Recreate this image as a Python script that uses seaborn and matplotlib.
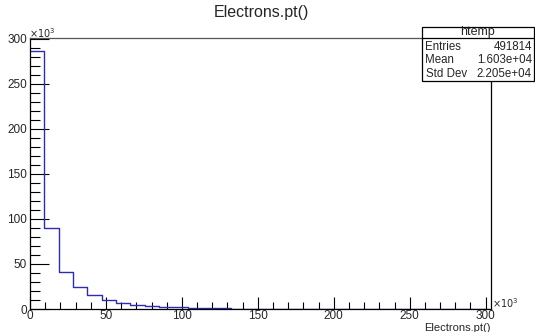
import numpy as np
import pandas as pd
import matplotlib
matplotlib.use("Agg")
import matplotlib.pyplot as plt
import seaborn as sns
from matplotlib.patches import Rectangle
from matplotlib.ticker import MultipleLocator

# ---- data (values in units of 10^3) ----
bin_width = 9.45
counts = [286.5, 89.4, 41.3, 24.0, 15.2, 10.3, 6.3, 4.8, 3.3, 2.6, 2.0, 1.5,
          1.2, 0.9, 0.3, 0.2, 0.2, 0.1, 0.1, 0.1, 0.05, 0.05, 0.05, 0.05,
          0.05, 0.05, 0.05, 0.05, 0.03, 0.03, 0.03, 0.03]
title = "Electrons.pt()"
xlabel = "Electrons.pt()"
stats_name = "htemp"
stats_rows = [("Entries", "491814"), ("Mean", "1.603e+04"), ("Std Dev", "2.205e+04")]

nbins = len(counts)
centers = (np.arange(nbins) + 0.5) * bin_width
df = pd.DataFrame({"x": centers, "w": counts})

sns.set_style("ticks")
plt.rcParams["font.family"] = ["Liberation Sans", "DejaVu Sans"]

W, H = 535, 332
fig = plt.figure(figsize=(W / 100, H / 100), dpi=100)
ax = fig.add_axes([30 / W, 1 - 309 / H, (491 - 30) / W, (309 - 38) / H])

sns.histplot(data=df, x="x", weights="w", binwidth=bin_width,
             binrange=(0, nbins * bin_width), element="step",
             fill=False, color="#2c2cb4", linewidth=1.0, ax=ax)

ax.set_xlim(0, 303.5)
ax.set_ylim(0, 1.05 * max(counts))
ax.set_xlabel("")
ax.set_ylabel("")

ax.xaxis.set_major_locator(MultipleLocator(50))
ax.xaxis.set_minor_locator(MultipleLocator(10))
ax.yaxis.set_major_locator(MultipleLocator(50))
ax.yaxis.set_minor_locator(MultipleLocator(10))
ax.tick_params(axis="both", which="both", direction="in", labelsize=8.5,
               color="black", width=0.8, top=False, right=False)
ax.tick_params(axis="x", which="major", length=9, pad=1)
ax.tick_params(axis="x", which="minor", length=5)
ax.tick_params(axis="y", which="major", length=14, pad=2)
ax.tick_params(axis="y", which="minor", length=7)
for s in ax.spines.values():
    s.set_linewidth(0.9)
    s.set_color("black")
ax.spines["top"].set_color("#555555")

fig.text(261 / W, 1 - 12 / H, title, ha="center", va="center", fontsize=11.5)
fig.text(491 / W, 1 - 328 / H, xlabel, ha="right", va="center", fontsize=8)
fig.text(29 / W, 1 - 33 / H, r"$\times10^{3}$", ha="left", va="center", fontsize=7)
fig.text(492 / W, 1 - 303 / H, r"$\times10^{3}$", ha="left", va="center", fontsize=7)

# stats box
bx0, bx1, by0, by1 = 421.5, 534, 26.5, 81
box = Rectangle((bx0 / W, 1 - by1 / H), (bx1 - bx0) / W, (by1 - by0) / H,
                transform=fig.transFigure, facecolor="white", edgecolor="black",
                linewidth=0.9, zorder=5)
fig.patches.append(box)
hy = 37.5
fig.add_artist(plt.Line2D([bx0 / W, bx1 / W], [1 - hy / H, 1 - hy / H],
                          transform=fig.transFigure, color="black", linewidth=0.9, zorder=6))
fig.text((bx0 + bx1) / 2 / W, 1 - 31.5 / H, stats_name, ha="center", va="center",
         fontsize=9, zorder=7)
for i, (k, v) in enumerate(stats_rows):
    yy = 1 - (47 + i * 13.3) / H
    fig.text((bx0 + 4) / W, yy, k, ha="left", va="center", fontsize=8.3, zorder=7)
    fig.text((bx1 - 2) / W, yy, v, ha="right", va="center", fontsize=8.3, zorder=7)

fig.savefig("out.png", dpi=100)
